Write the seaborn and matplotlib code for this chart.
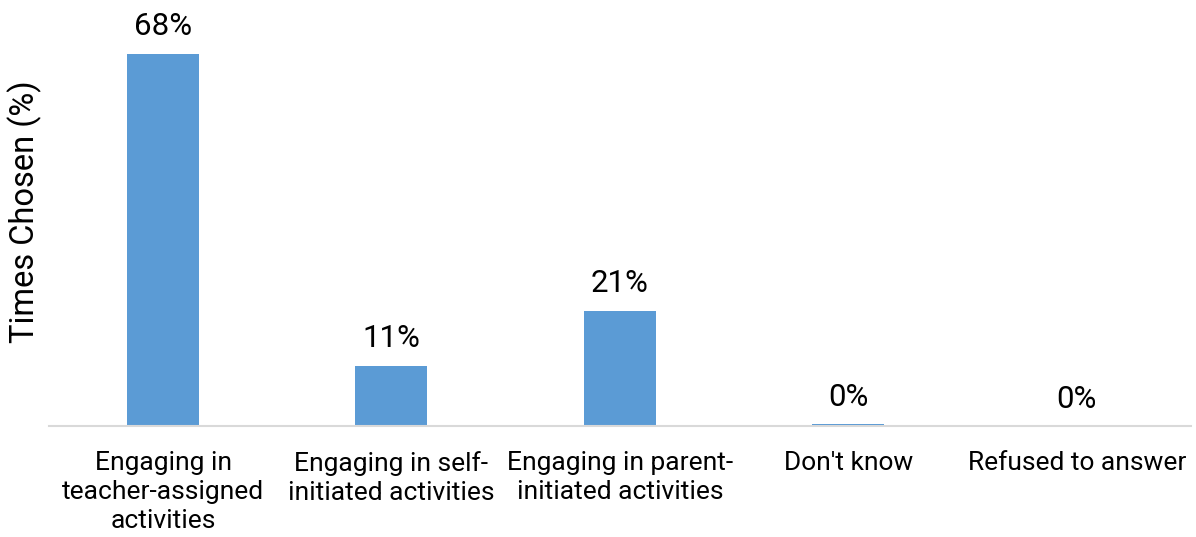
import matplotlib
matplotlib.use("Agg")
import matplotlib.pyplot as plt
import seaborn as sns
import pandas as pd

categories = [
    "Engaging in\nteacher-assigned\nactivities",
    "Engaging in self-\ninitiated activities",
    "Engaging in parent-\ninitiated activities",
    "Don't know",
    "Refused to answer",
]
values = [68, 11, 21, 0.3, 0]
labels = ["68%", "11%", "21%", "0%", "0%"]

sns.set_theme(style="white")
plt.rcParams['font.family'] = ['Roboto', 'DejaVu Sans']

df = pd.DataFrame({"cat": categories, "val": values})

fig = plt.figure(figsize=(11.96, 5.37), dpi=100)
ax = fig.add_axes([0.0408, 0.2067, 0.955, 0.763])
sns.barplot(data=df, x="cat", y="val", color="#5B9BD5", width=0.315,
            saturation=1, linewidth=0, ax=ax)

for i, (v, lab) in enumerate(zip(values, labels)):
    ax.annotate(lab, (i, v), xytext=(0, 9), textcoords="offset points",
                ha="center", va="bottom", fontsize=22.5, color="#000000")

ax.set_ylim(0, 74.8)
ax.set_xlim(-0.5, 4.5)
ax.set_xlabel("")
ax.set_ylabel("Times Chosen (%)", fontsize=23.5, color="#000000")
ax.yaxis.set_label_coords(-0.006, 0.522)
ax.set_yticks([])
for s in ["top", "right", "left"]:
    ax.spines[s].set_visible(False)
ax.spines["bottom"].set_color("#D9D9D9")
ax.spines["bottom"].set_linewidth(1.5)
ax.tick_params(axis="x", length=0, pad=18, labelsize=19, labelcolor="#000000")
for t in ax.get_xticklabels():
    t.set_linespacing(1.25)

fig.savefig("out.png", dpi=100)
